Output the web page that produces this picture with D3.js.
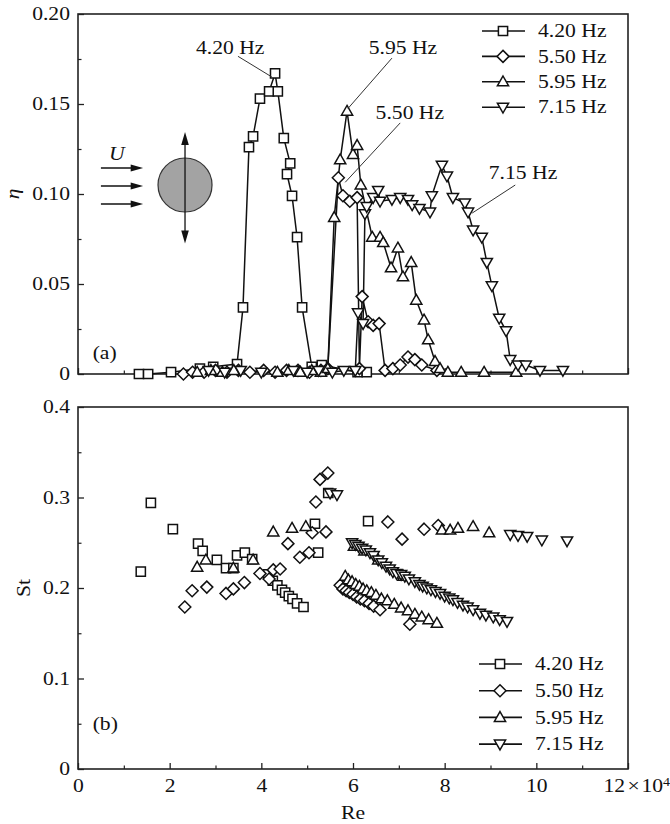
<!DOCTYPE html>
<html><head><meta charset="utf-8">
<script src="https://cdn.jsdelivr.net/npm/d3@7"></script>
<style>
body{margin:0;background:#fff}
svg{display:block}
text{font-family:"Liberation Serif","Times New Roman",serif;fill:#111}
</style>
</head><body>
<svg id="c" width="670" height="824"></svg>
<script>
// ---------- data ----------
const seriesLabels = ["4.20 Hz", "5.50 Hz", "5.95 Hz", "7.15 Hz"];
const seriesSymbols = ["square", "diamond", "up", "down"];

// panel (a): efficiency eta vs Re (x 10^4)
const etaRe420 = [1.33,1.53,2.03,2.66,2.95,3.47,3.60,3.73,3.82,3.97,4.17,4.30,4.36,4.49,4.63,4.56,4.67,4.78,4.89,5.10,5.32,6.10,6.30];
const eta420   = [0,0,0.001,0.003,0.004,0.0055,0.037,0.126,0.132,0.153,0.157,0.167,0.157,0.131,0.117,0.111,0.099,0.076,0.037,0.004,0.005,0.001,0.001];

const etaRe550 = [2.30,2.50,2.75,3.00,3.25,3.50,3.75,4.05,4.30,4.55,4.80,5.05,5.30,5.45,5.68,5.78,5.93,6.09,6.14,6.20,6.33,6.44,6.57,6.70,6.87,7.03,7.20,7.35,7.50,7.83];
const eta550   = [0.000,0.001,0.001,0.002,0.001,0.002,0.001,0.002,0.001,0.002,0.002,0.001,0.002,0.003,0.109,0.099,0.096,0.098,0.003,0.043,0.029,0.027,0.028,0.002,0.003,0.005,0.0094,0.008,0.005,0.002];

const etaRe595 = [2.60,2.90,3.15,3.40,4.35,4.60,4.85,5.10,5.30,5.45,5.59,5.72,5.87,6.00,6.09,6.17,6.42,6.59,6.66,6.83,6.98,7.09,7.27,7.38,7.55,7.64,7.79,7.90,8.07,8.36,8.86,9.56];
const eta595   = [0.001,0.002,0.001,0.002,0.001,0.002,0.001,0.002,0.001,0.003,0.087,0.119,0.146,0.122,0.127,0.105,0.076,0.076,0.073,0.059,0.070,0.054,0.062,0.041,0.030,0.019,0.007,0.003,0.001,0.001,0.001,0.001];

const etaRe715 = [2.85,3.20,3.55,4.00,4.70,5.00,5.25,5.55,5.80,6.05,6.11,6.22,6.26,6.30,6.44,6.55,6.59,6.85,7.03,7.20,7.29,7.45,7.68,7.72,7.94,8.05,8.18,8.44,8.51,8.62,8.81,8.92,9.03,9.19,9.34,9.43,9.60,9.77,10.08,10.58];
const eta715   = [0.002,0.001,0.002,0.001,0.002,0.001,0.002,0.001,0.002,0.002,0.034,0.028,0.089,0.093,0.098,0.102,0.096,0.097,0.098,0.097,0.094,0.092,0.090,0.099,0.116,0.110,0.098,0.095,0.090,0.080,0.076,0.062,0.049,0.031,0.024,0.008,0.005,0.005,0.002,0.002];

// panel (b): Strouhal number St vs Re (x 10^4)
const stRe420 = [1.37,1.59,2.07,2.62,2.72,3.03,3.23,3.39,3.47,3.64,3.80,4.15,4.25,4.35,4.45,4.52,4.60,4.68,4.78,4.92,5.17,5.24,5.46,6.33];
const st420   = [0.218,0.294,0.265,0.249,0.241,0.231,0.222,0.222,0.236,0.239,0.232,0.215,0.208,0.203,0.198,0.195,0.191,0.188,0.183,0.179,0.271,0.239,0.305,0.274];

const stRe550 = [2.33,2.49,2.81,3.23,3.39,3.63,3.97,4.17,4.26,4.41,4.58,4.84,5.04,5.11,5.19,5.28,5.41,5.45,5.72,5.78,5.85,5.92,6.00,6.08,6.16,6.25,6.35,6.45,6.59,6.76,7.07,7.24,7.55,7.86];
const st550   = [0.179,0.197,0.201,0.194,0.199,0.206,0.216,0.210,0.220,0.221,0.249,0.234,0.239,0.261,0.295,0.320,0.262,0.327,0.203,0.199,0.197,0.195,0.193,0.190,0.188,0.186,0.183,0.180,0.176,0.273,0.254,0.160,0.265,0.269];

const stRe595 = [2.60,2.79,3.39,3.82,4.26,4.67,4.97,5.83,5.90,5.98,6.06,6.14,6.22,6.30,6.40,6.50,6.62,6.75,6.90,7.05,7.20,7.35,7.50,7.65,7.83,6.02,6.25,6.55,7.10,7.94,8.12,8.29,8.62,8.97];
const st595   = [0.223,0.231,0.222,0.231,0.262,0.266,0.268,0.213,0.209,0.207,0.204,0.202,0.199,0.197,0.195,0.192,0.188,0.186,0.182,0.178,0.175,0.171,0.168,0.165,0.161,0.246,0.241,0.231,0.213,0.264,0.264,0.266,0.268,0.261];

const stRe715 = [5.50,5.65,5.98,6.05,6.12,6.20,6.28,6.37,6.45,6.55,6.63,6.72,6.80,6.87,6.95,7.05,7.13,7.22,7.35,7.45,7.52,7.61,7.70,7.80,7.90,8.00,8.10,8.18,8.28,8.40,8.50,8.62,8.77,8.90,9.06,9.20,9.36,9.43,9.60,9.80,10.12,10.67];
const st715   = [0.305,0.303,0.250,0.248,0.246,0.244,0.242,0.239,0.236,0.231,0.228,0.224,0.221,0.218,0.216,0.215,0.213,0.210,0.207,0.204,0.202,0.200,0.198,0.196,0.194,0.191,0.189,0.187,0.184,0.181,0.179,0.176,0.172,0.170,0.168,0.165,0.163,0.259,0.258,0.257,0.253,0.252];

const xTicks = [0,2,4,6,8,10,12];
const etaTicks = [0,0.05,0.10,0.15,0.20];
const stTicks = [0,0.1,0.2,0.3,0.4];

// ---------- setup ----------
const svg = d3.select("#c");
const FS = 18.5, SX = 1.17;
const x = d3.scaleLinear([0,12],[78,628]);
const yA = d3.scaleLinear([0,0.2],[374,14]);
const yB = d3.scaleLinear([0,0.4],[769,407]);

function stretch(sel){
  sel.each(function(){
    const t = d3.select(this);
    const tx = +t.attr("x")||0, ty = +t.attr("y")||0;
    t.attr("transform",`translate(${tx},${ty}) scale(${SX},1) translate(${-tx},${-ty})`);
  });
}
function symPath(type){
  switch(type){
    case "square": return "M-4.6,-4.6H4.6V4.6H-4.6Z";
    case "diamond": return "M0,-6L6,0L0,6L-6,0Z";
    case "up": return "M0,-5.8L5.6,4L-5.6,4Z";
    case "down": return "M0,5.8L5.6,-4L-5.6,-4Z";
  }
}

const etaData = [
  d3.zip(etaRe420, eta420), d3.zip(etaRe550, eta550),
  d3.zip(etaRe595, eta595), d3.zip(etaRe715, eta715)];
const stData = [
  d3.zip(stRe420, st420), d3.zip(stRe550, st550),
  d3.zip(stRe595, st595), d3.zip(stRe715, st715)];

function panel(y, ticks, minor, fmt, showX){
  const g = svg.append("g");
  const ay = g.append("g").attr("transform",`translate(${x(0)},0)`)
    .call(d3.axisLeft(y).tickValues(ticks).tickFormat(fmt).tickSize(-6).tickSizeOuter(0).tickPadding(8));
  ay.select(".domain").remove();
  ay.selectAll("line").attr("stroke","#222").attr("stroke-width",1.3);
  ay.selectAll("text").attr("font-size",FS).attr("fill","#111").call(stretch);
  g.append("g").attr("transform",`translate(${x(0)},0)`)
    .call(d3.axisLeft(y).tickValues(minor).tickFormat("").tickSize(-3.5).tickSizeOuter(0))
    .call(s=>{s.select(".domain").remove(); s.selectAll("line").attr("stroke","#222").attr("stroke-width",1.2);});
  const ax = g.append("g").attr("transform",`translate(0,${y(0)})`)
    .call(d3.axisBottom(x).tickValues(xTicks).tickFormat(showX? (d=> d===12? "" : String(d)) : "").tickSize(-6).tickSizeOuter(0).tickPadding(10));
  ax.select(".domain").remove();
  ax.selectAll("line").attr("stroke","#222").attr("stroke-width",1.3);
  if(showX){
    ax.selectAll("text").attr("font-size",FS).attr("fill","#111")
      .each(function(d){
        if(d===12){
          const t=d3.select(this).attr("text-anchor","start").attr("x",-25);
          t.append("tspan").text("12");
          t.append("tspan").attr("dx",2).text("×");
          t.append("tspan").attr("dx",1.5).text("10");
          t.append("tspan").attr("font-size",12).attr("dy","-0.55em").text("4");
        }
      }).call(stretch);
  }
  g.append("g").attr("transform",`translate(0,${y(0)})`)
    .call(d3.axisBottom(x).tickValues([1,3,5,7,9,11]).tickFormat("").tickSize(-3.5).tickSizeOuter(0))
    .call(s=>{s.select(".domain").remove(); s.selectAll("line").attr("stroke","#222").attr("stroke-width",1.2);});
  g.append("rect").attr("x",x(0)).attr("y",y.range()[1]).attr("width",x(12)-x(0)).attr("height",y.range()[0]-y.range()[1])
    .attr("fill","none").attr("stroke","#222").attr("stroke-width",1.6);
  return g;
}

const gA = panel(yA, etaTicks, [0.025,0.075,0.125,0.175], d=> d===0?"0":d3.format(".2f")(d), false);
const gB = panel(yB, stTicks, [0.05,0.15,0.25,0.35], d=> d===0?"0":d3.format(".1f")(d), true);

// ---------- panel (a) series ----------
const line = d3.line().x(d=>x(d[0])).y(d=>yA(d[1]));
etaData.forEach((ser,i)=>{
  gA.append("path").attr("d",line(ser)).attr("fill","none").attr("stroke","#111").attr("stroke-width",1.5);
});
etaData.forEach((ser,i)=>{
  gA.append("g").selectAll("path").data(ser).join("path")
    .attr("transform",d=>`translate(${x(d[0])},${yA(d[1])})`)
    .attr("d",symPath(seriesSymbols[i])).attr("fill","#fff").attr("stroke","#111").attr("stroke-width",1.5);
});

// ---------- panel (b) series ----------
stData.forEach((ser,i)=>{
  gB.append("g").selectAll("path").data(ser).join("path")
    .attr("transform",d=>`translate(${x(d[0])},${yB(d[1])})`)
    .attr("d",symPath(seriesSymbols[i])).attr("fill","#fff").attr("stroke","#111").attr("stroke-width",1.5);
});

// ---------- legends ----------
function legend(x0, y0, dy){
  seriesLabels.forEach((lab,i)=>{
    const cy = y0 + i*dy;
    svg.append("line").attr("x1",x0).attr("x2",x0+43).attr("y1",cy).attr("y2",cy).attr("stroke","#111").attr("stroke-width",1.6);
    svg.append("path").attr("transform",`translate(${x0+21},${cy})`).attr("d",symPath(seriesSymbols[i]))
      .attr("fill","#fff").attr("stroke","#111").attr("stroke-width",1.5);
    svg.append("text").attr("x",x0+56).attr("y",cy).attr("dy","0.34em").attr("font-size",FS).text(lab).call(stretch);
  });
}
legend(482, 31, 25.4);
legend(479, 664, 26.7);

// ---------- annotations panel (a) ----------
const ann = [
  {lab:"4.20 Hz", tx:3.32, ty:0.1815, l:[[3.49,0.1765],[4.23,0.1650]]},
  {lab:"5.95 Hz", tx:7.09, ty:0.1815, l:[[6.85,0.1755],[5.89,0.1475]]},
  {lab:"5.50 Hz", tx:7.24, ty:0.1450, l:[[7.03,0.1395],[5.83,0.1065]]},
  {lab:"7.15 Hz", tx:9.71, ty:0.1117, l:[[9.54,0.1050],[8.60,0.0894]]}
];
ann.forEach(a=>{
  svg.append("line").attr("x1",x(a.l[0][0])).attr("y1",yA(a.l[0][1])).attr("x2",x(a.l[1][0])).attr("y2",yA(a.l[1][1]))
    .attr("stroke","#333").attr("stroke-width",1);
  svg.append("text").attr("x",x(a.tx)).attr("y",yA(a.ty)).attr("dy","0.34em").attr("text-anchor","middle")
    .attr("font-size",FS).text(a.lab).call(stretch);
});

svg.append("text").attr("x",x(0.32)).attr("y",yA(0.012)).attr("dy","0.34em").attr("font-size",FS).text("(a)").call(stretch);
svg.append("text").attr("x",x(0.32)).attr("y",yB(0.05)).attr("dy","0.34em").attr("font-size",FS).text("(b)").call(stretch);

svg.append("text").attr("transform",`translate(13,${yA(0.10)}) rotate(-90) scale(${SX},1)`).attr("text-anchor","middle")
  .attr("dy","0.3em").attr("font-size",FS).attr("font-style","italic").text("η");
svg.append("text").attr("transform",`translate(24,${yB(0.2)}) rotate(-90) scale(${SX},1)`).attr("text-anchor","middle")
  .attr("dy","0.34em").attr("font-size",FS).text("St");
svg.append("text").attr("x",x(6)).attr("y",813).attr("dy","0.34em").attr("text-anchor","middle").attr("font-size",FS).text("Re").call(stretch);

// ---------- flow / cylinder sketch ----------
const cx = x(2.335), cyy = yA(0.105);
svg.append("text").attr("x",x(0.85)).attr("y",yA(0.1222)).attr("dy","0.34em").attr("text-anchor","middle")
  .attr("font-size",FS).attr("font-style","italic").text("U").call(stretch);
[0.1144,0.1044,0.0944].forEach(v=>{
  const yy = yA(v);
  svg.append("line").attr("x1",x(0.50)).attr("x2",x(1.20)).attr("y1",yy).attr("y2",yy).attr("stroke","#111").attr("stroke-width",1.5);
  svg.append("path").attr("d",`M${x(1.42)},${yy}L${x(1.15)},${yy-3.5}L${x(1.15)},${yy+3.5}Z`).attr("fill","#111");
});
svg.append("circle").attr("cx",cx).attr("cy",cyy).attr("r",27).attr("fill","#a3a3a3").attr("stroke","#333").attr("stroke-width",1.2);
svg.append("line").attr("x1",cx).attr("x2",cx).attr("y1",yA(0.1315)).attr("y2",yA(0.0745)).attr("stroke","#111").attr("stroke-width",1.3);
svg.append("path").attr("d",`M${cx},${yA(0.1345)}L${cx-3.8},${yA(0.1345)+13}L${cx+3.8},${yA(0.1345)+13}Z`).attr("fill","#111");
svg.append("path").attr("d",`M${cx},${yA(0.0725)}L${cx-3.8},${yA(0.0725)-13}L${cx+3.8},${yA(0.0725)-13}Z`).attr("fill","#111");
</script>
</body></html>
